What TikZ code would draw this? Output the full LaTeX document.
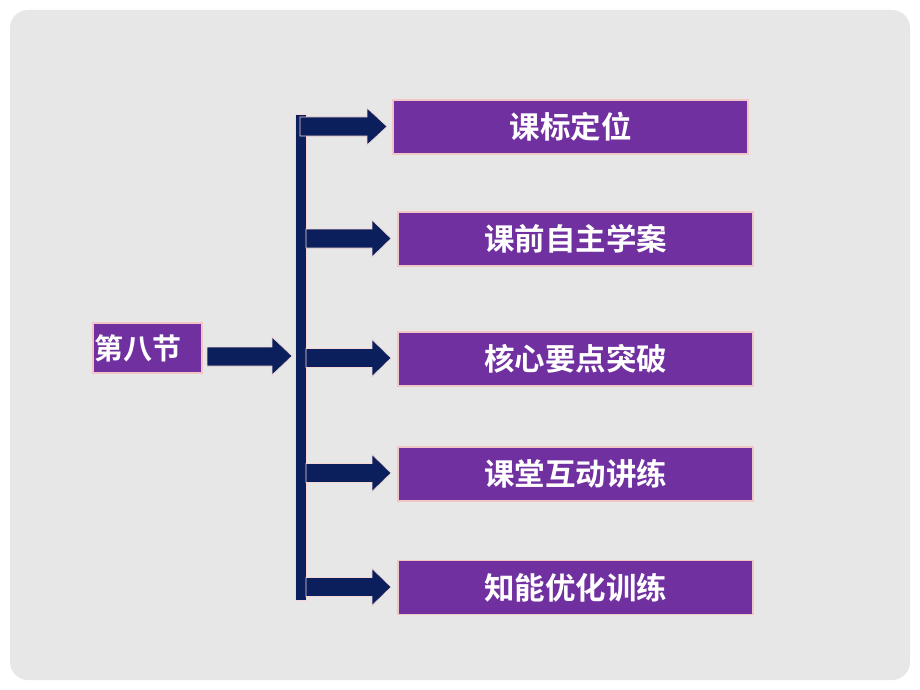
\documentclass[tikz,border=0pt]{standalone}
\usepackage{fontspec}
\newfontfamily\cjk{Noto Sans CJK SC}[BoldFont={Noto Sans CJK SC Bold}]
\definecolor{bggray}{HTML}{E7E7E8}
\definecolor{boxpurple}{HTML}{7030A0}
\definecolor{boxedge}{HTML}{F2C6C6}
\definecolor{navy}{HTML}{0A1F5C}
\tikzset{
  x=1pt,y=-1pt,
  itembox/.style={draw=boxedge, line width=1.2pt, fill=boxpurple, text=white,
    minimum width=355pt, minimum height=54pt, inner sep=0pt,
    font=\cjk\bfseries\fontsize{30.5}{33}\selectfont},
  fatarrow/.style={fill=navy, draw=boxedge!70, line width=0.6pt},
}
\newcommand{\fatarr}[4]{% x-start, x-head, x-tip, y-center
  \filldraw[fatarrow] (#1,#4-9.5) -- (#2,#4-9.5) -- (#2,#4-18.5) -- (#3,#4)
    -- (#2,#4+18.5) -- (#2,#4+9.5) -- (#1,#4+9.5) -- cycle;}
\begin{document}
\begin{tikzpicture}
\useasboundingbox (0,0) rectangle (920,690);
\fill[white] (0,0) rectangle (920,690);
\fill[bggray, rounded corners=18pt] (10,10) rectangle (910,680);

% left box
\node[draw=boxedge, line width=1.2pt, fill=boxpurple, text=white, inner sep=0pt,
  minimum width=109pt, minimum height=50pt, text width=106pt, align=left,
  font=\cjk\bfseries\fontsize{29}{32}\selectfont] (main) at (147.5,348) {\raisebox{-2pt}{第八节}};

% vertical bar
\filldraw[fatarrow] (295,114) rectangle (306,600);
\coordinate (bartop) at (300.5,114);
\coordinate (barbot) at (300.5,600);

% right boxes
\node[itembox] (b1) at (570.5,127) {课标定位};
\node[itembox] (b2) at (575.5,239) {课前自主学案};
\node[itembox] (b3) at (575.5,359) {核心要点突破};
\node[itembox] (b4) at (575.5,474) {课堂互动讲练};
\node[itembox] (b5) at (575.5,587.5) {知能优化训练};

% arrows
\filldraw[fatarrow] (207,347) -- (272,347) -- (272,337) -- (292,356)
  -- (272,375) -- (272,366) -- (207,366) -- cycle;
\fatarr{300}{367}{387}{126.5}
\fatarr{306}{372}{391}{238.5}
\fatarr{306}{372}{391}{358}
\fatarr{306}{372}{391}{473}
\fatarr{306}{372}{391}{587}
\end{tikzpicture}
\end{document}
